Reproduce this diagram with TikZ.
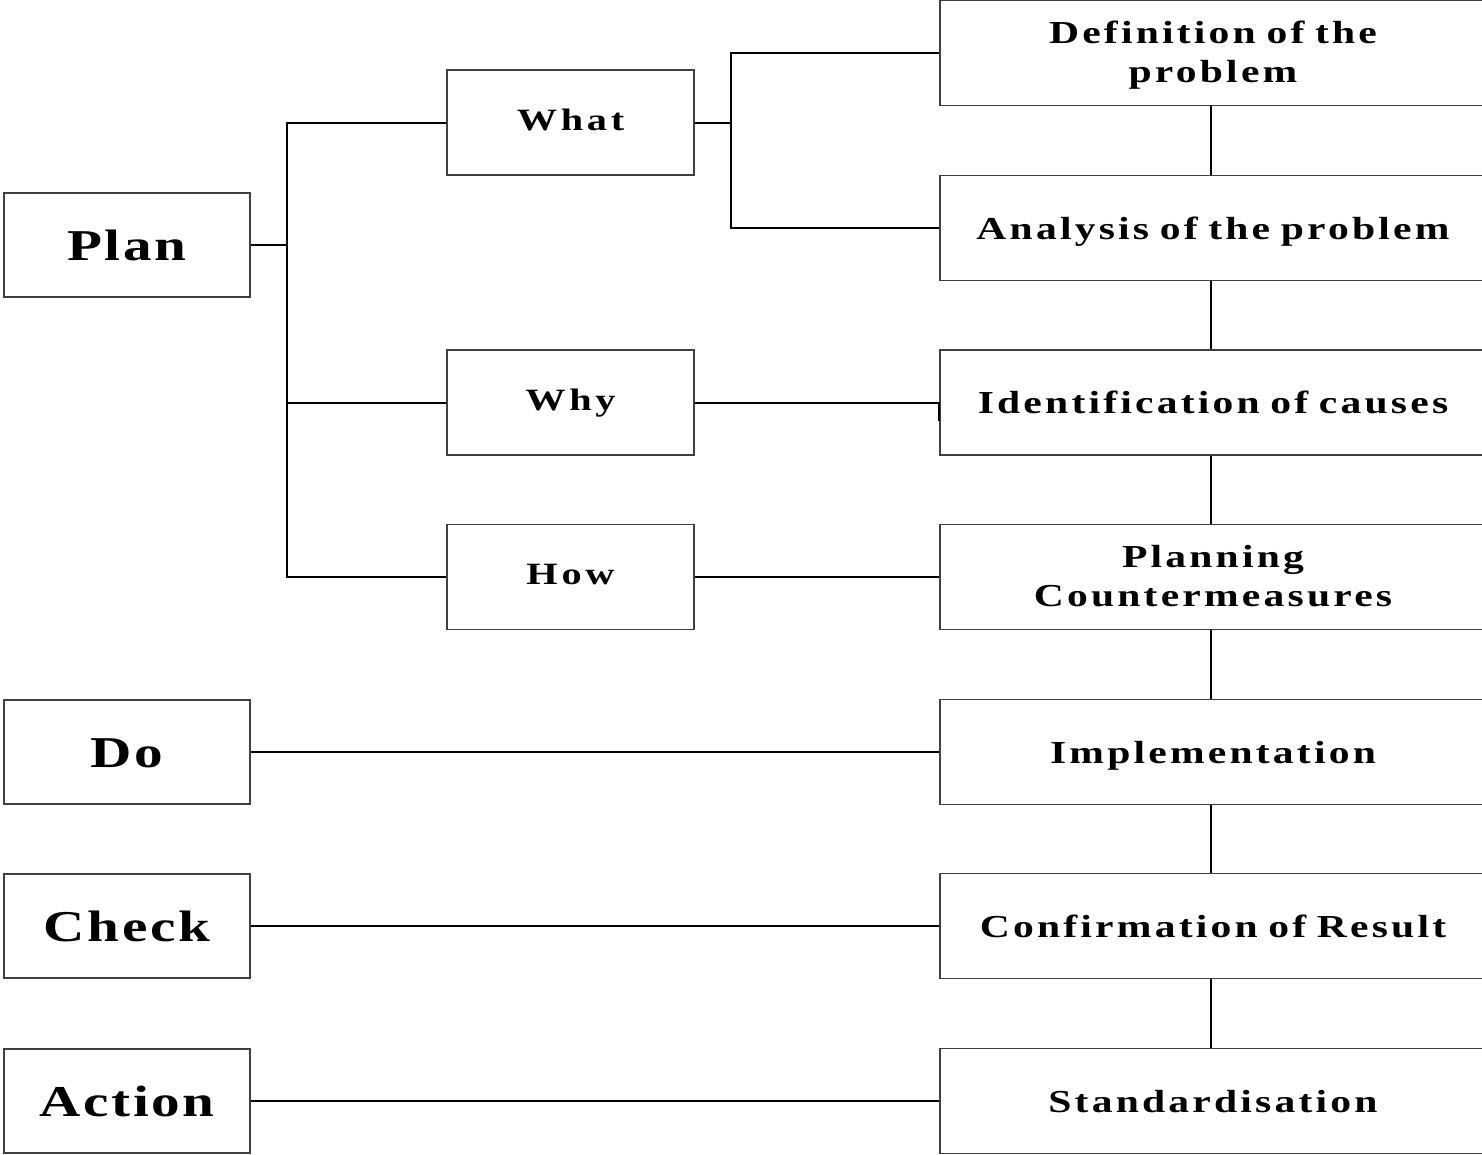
\documentclass[tikz,border=0pt]{standalone}
\usepackage{fontspec}
\setmainfont{Liberation Serif}
\newfontfamily\bigfont{Liberation Serif}[UprightFont={* Bold}, FakeStretch=1.3, LetterSpace=6, WordSpace=2]
\newfontfamily\midfont{Liberation Serif}[UprightFont={* Bold}, FakeStretch=1.3, LetterSpace=12, WordSpace=2]
\newfontfamily\rfont{Liberation Serif}[UprightFont={* Bold}, FakeStretch=1.3, LetterSpace=10, WordSpace=2]
\begin{document}
\begin{tikzpicture}[x=1pt,y=-1pt,
  box/.style={draw=black!75, line width=1.3pt, fill=white, inner sep=0pt, align=center},
  bigbox/.style={box, minimum width=246pt, minimum height=104pt, text height=30pt, text depth=0pt,
    font=\bigfont\fontsize{44}{48}\selectfont},
  midbox/.style={box, minimum width=247pt, minimum height=105pt, text height=21pt, text depth=6pt,
    font=\midfont\fontsize{31}{40}\selectfont},
  rbox/.style={box, minimum width=546pt, minimum height=105pt, text width=540pt, text height=24pt, text depth=2pt,
    font=\rfont\fontsize{32}{39}\selectfont},
  rboxtwo/.style={rbox, text height=26pt, text depth=46pt},
  conn/.style={line width=2pt, black}]
\useasboundingbox (0,0) rectangle (1482,1154);
% left column
\node[bigbox] (plan) at (127,245) {Plan};
\node[bigbox] (do) at (127,752) {Do};
\node[bigbox] (check) at (127,926) {Check};
\node[bigbox] (action) at (127,1101) {Action};
% middle column
\node[midbox] (what) at (570.5,122.5) {What};
\node[midbox] (why) at (570.5,402.5) {Why};
\node[midbox] (how) at (570.5,577) {How};
% right column
\node[rboxtwo] (def) at (1213,53) {Definition of the\\problem};
\node[rbox] (ana) at (1213,228) {Analysis of the problem};
\node[rbox] (ide) at (1213,402.5) {Identification of causes};
\node[rboxtwo] (pla) at (1213,577) {Planning\\Countermeasures};
\node[rbox] (imp) at (1213,752) {Implementation};
\node[rbox] (con) at (1213,926) {Confirmation of Result};
\node[rbox] (sta) at (1213,1101) {Standardisation};
% connectors: plan tree
\coordinate (pj) at (287,245);
\draw[conn] (plan.east) -- (pj);
\draw[conn] (what.west) -| (pj) |- (how.west);
\draw[conn] (why.west) -- (why.west -| pj);
% what tree
\coordinate (wj) at (731,122.5);
\draw[conn] (what.east) -- (wj);
\draw[conn] (def.west) -| (wj) |- (ana.west);
% why, how
\draw[conn] (why.east) -- (ide.west) -- ++(0,18);
\draw[conn] (how.east) -- (pla.west);
% do, check, action
\draw[conn] (do.east) -- (imp.west);
\draw[conn] (check.east) -- (con.west);
\draw[conn] (action.east) -- (sta.west);
% right vertical chain
\draw[conn] ([xshift=-2pt]def.south) -- ([xshift=-2pt]ana.north);
\draw[conn] ([xshift=-2pt]ana.south) -- ([xshift=-2pt]ide.north);
\draw[conn] ([xshift=-2pt]ide.south) -- ([xshift=-2pt]pla.north);
\draw[conn] ([xshift=-2pt]pla.south) -- ([xshift=-2pt]imp.north);
\draw[conn] ([xshift=-2pt]imp.south) -- ([xshift=-2pt]con.north);
\draw[conn] ([xshift=-2pt]con.south) -- ([xshift=-2pt]sta.north);
\end{tikzpicture}
\end{document}
